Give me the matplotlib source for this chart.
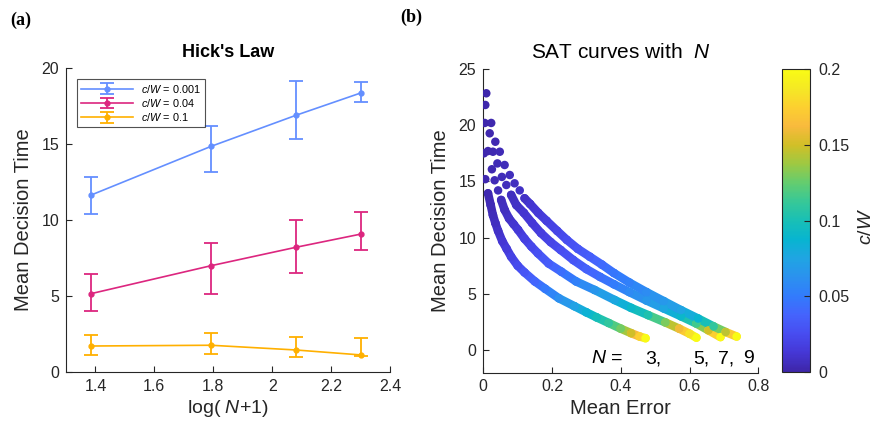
import numpy as np
import matplotlib
matplotlib.use('Agg')
import matplotlib.pyplot as plt
from matplotlib.colors import LinearSegmentedColormap, Normalize
from matplotlib.collections import LineCollection
import matplotlib.cm as cm

plt.rcParams['font.family'] = ['Liberation Sans', 'DejaVu Sans']
plt.rcParams['mathtext.fontset'] = 'custom'
plt.rcParams['mathtext.it'] = 'Liberation Sans:italic'
plt.rcParams['mathtext.rm'] = 'Liberation Sans'

# ---------------- Panel (a) data: Hick's law ----------------
N_items = [3, 5, 7, 9]
hick_labels = ['0.001', '0.04', '0.1']
hick_mean_0001 = [11.65, 14.84, 16.88, 18.37]
hick_low_0001 = [10.40, 13.19, 15.34, 17.74]
hick_high_0001 = [12.86, 16.20, 19.12, 19.05]
hick_mean_004 = [5.16, 6.99, 8.20, 9.08]
hick_low_004 = [4.02, 5.16, 6.53, 8.02]
hick_high_004 = [6.48, 8.50, 10.00, 10.50]
hick_mean_01 = [1.71, 1.76, 1.45, 1.12]
hick_low_01 = [1.14, 1.21, 0.99, 1.03]
hick_high_01 = [2.42, 2.57, 2.31, 2.26]

# ---------------- Panel (b) data: SAT curves ----------------
sat_err_N3 = [0.002, 0.0058, 0.0137, 0.0215, 0.028, 0.035, 0.043, 0.055, 0.068, 0.081,
              0.100, 0.120, 0.150, 0.180, 0.220, 0.265, 0.300, 0.330, 0.365, 0.400,
              0.430, 0.455, 0.472]
sat_dt_N3 = [17.5, 15.2, 13.94, 12.9, 12.0, 11.3, 10.6, 9.7, 9.0, 8.3,
             7.5, 6.9, 6.1, 5.45, 4.6, 3.9, 3.35, 2.9, 2.4, 1.9,
             1.5, 1.2, 1.05]
sat_cw_N3 = [0.001, 0.002, 0.003, 0.004, 0.005, 0.007, 0.009, 0.012, 0.015, 0.019,
             0.024, 0.030, 0.039, 0.049, 0.061, 0.073, 0.085, 0.097, 0.110, 0.128,
             0.150, 0.175, 0.200]

sat_err_N5 = [0.004, 0.0137, 0.025, 0.033, 0.043, 0.052, 0.062, 0.075, 0.088, 0.101,
              0.120, 0.140, 0.159, 0.190, 0.227, 0.270, 0.324, 0.382, 0.430, 0.480,
              0.530, 0.570, 0.600, 0.620]
sat_dt_N5 = [20.2, 17.7, 16.08, 15.1, 14.2, 13.35, 12.46, 11.7, 11.2, 10.7,
             9.9, 9.2, 8.6, 7.7, 6.97, 6.1, 5.34, 4.45, 3.75, 3.1,
             2.45, 1.9, 1.45, 1.1]
sat_cw_N5 = [0.001, 0.002, 0.003, 0.004, 0.005, 0.006, 0.007, 0.009, 0.011, 0.014,
             0.018, 0.022, 0.027, 0.034, 0.043, 0.053, 0.065, 0.077, 0.090, 0.103,
             0.130, 0.160, 0.183, 0.200]

sat_err_N7 = [0.0058, 0.0186, 0.028, 0.041, 0.054, 0.067, 0.081, 0.096, 0.118, 0.142,
              0.168, 0.196, 0.225, 0.262, 0.300, 0.340, 0.380, 0.425, 0.475, 0.525,
              0.575, 0.620, 0.655, 0.690]
sat_dt_N7 = [21.8, 19.28, 17.64, 16.6, 15.4, 14.68, 13.8, 12.9, 12.2, 11.3,
             10.4, 9.6, 8.9, 8.0, 7.2, 6.5, 5.85, 5.15, 4.4, 3.7,
             3.0, 2.35, 1.75, 1.15]
sat_cw_N7 = [0.001, 0.002, 0.003, 0.004, 0.005, 0.006, 0.007, 0.008, 0.011, 0.014,
             0.017, 0.021, 0.025, 0.030, 0.036, 0.043, 0.050, 0.058, 0.066, 0.076,
             0.090, 0.115, 0.150, 0.200]

sat_err_N9 = [0.0087, 0.023, 0.035, 0.048, 0.062, 0.077, 0.091, 0.106, 0.120, 0.136,
              0.160, 0.184, 0.215, 0.243, 0.275, 0.310, 0.345, 0.380, 0.425, 0.475,
              0.525, 0.575, 0.625, 0.670, 0.705, 0.737]
sat_dt_N9 = [22.84, 20.2, 18.53, 17.64, 16.46, 15.57, 14.83, 14.2, 13.5, 13.0,
             12.2, 11.5, 10.6, 9.8, 9.0, 8.3, 7.6, 6.85, 6.0, 5.15,
             4.35, 3.55, 2.8, 2.1, 1.6, 1.2]
sat_cw_N9 = [0.001, 0.002, 0.003, 0.004, 0.005, 0.006, 0.007, 0.008, 0.009, 0.011,
             0.014, 0.017, 0.021, 0.025, 0.030, 0.035, 0.041, 0.047, 0.053, 0.060,
             0.067, 0.075, 0.087, 0.110, 0.145, 0.200]

cbar_ticks = [0, 0.05, 0.1, 0.15, 0.2]
cbar_ticklabels = ['0', '0.05', '0.1', '0.15', '0.2']

# ---------------- styling ----------------
parula_pts = [
    (0.2422, 0.1504, 0.6603), (0.2706, 0.2147, 0.8364), (0.2813, 0.3006, 0.9414),
    (0.2699, 0.3892, 0.9906), (0.1963, 0.4847, 0.9892), (0.1687, 0.5703, 0.9359),
    (0.1248, 0.6459, 0.8883), (0.0297, 0.7082, 0.8163), (0.0964, 0.7500, 0.7120),
    (0.2161, 0.7843, 0.5923), (0.3909, 0.8029, 0.4354), (0.6174, 0.7876, 0.2612),
    (0.8203, 0.7498, 0.1535), (0.9728, 0.7298, 0.2394), (0.9892, 0.8136, 0.1885),
    (0.9597, 0.9135, 0.1423), (0.9769, 0.9839, 0.0805)]
parula = LinearSegmentedColormap.from_list('parula', parula_pts, N=256)
norm = Normalize(vmin=0, vmax=0.2)

axcol = '#262626'
c_blue, c_pink, c_orange = '#648FFF', '#DC267F', '#FFB000'

fig = plt.figure(figsize=(8.75, 4.32), dpi=100)
W, H = 875, 432
ax1 = fig.add_axes([66 / W, 1 - 372 / H, 324 / W, 304 / H])
ax2 = fig.add_axes([483.3 / W, 1 - 372.5 / H, 275 / W, 303.5 / H])
cax = fig.add_axes([782 / W, 1 - 372 / H, 28 / W, 303 / H])


def style_ax(ax):
    for s in ['top', 'right']:
        ax.spines[s].set_visible(False)
    for s in ['left', 'bottom']:
        ax.spines[s].set_color(axcol)
        ax.spines[s].set_linewidth(0.8)
    ax.tick_params(direction='in', length=4, width=0.8, colors=axcol,
                   labelsize=11.5, pad=5)


# ---------------- Panel (a) ----------------
x = np.log(np.array(N_items) + 1)
series = [
    (hick_mean_0001, hick_low_0001, hick_high_0001, c_blue, hick_labels[0]),
    (hick_mean_004, hick_low_004, hick_high_004, c_pink, hick_labels[1]),
    (hick_mean_01, hick_low_01, hick_high_01, c_orange, hick_labels[2]),
]
for m, lo, hi, col, lab in series:
    m = np.array(m); lo = np.array(lo); hi = np.array(hi)
    ax1.errorbar(x, m, yerr=[m - lo, hi - m], color=col, marker='o', ms=3.5,
                 lw=1.2, elinewidth=1.3, capsize=5, capthick=1.3,
                 label='$c/W$ = ' + lab)
ax1.set_xlim(1.3, 2.4)
ax1.set_ylim(0, 20)
ax1.set_xticks([1.4, 1.6, 1.8, 2.0, 2.2, 2.4])
ax1.set_xticklabels(['1.4', '1.6', '1.8', '2', '2.2', '2.4'])
ax1.set_yticks([0, 5, 10, 15, 20])
style_ax(ax1)
ax1.set_xlabel('log( $N$+1)', fontsize=14, color=axcol, labelpad=3)
ax1.set_ylabel('Mean Decision Time', fontsize=14.5, color=axcol, labelpad=6)
ax1.set_title("Hick's Law", fontweight='bold', fontsize=13, pad=8)
leg = ax1.legend(loc='upper left', fontsize=7.8, frameon=True, fancybox=False,
                 handlelength=4.8, borderaxespad=1.0, labelspacing=0.2,
                 borderpad=0.35, handletextpad=0.8)
leg.get_frame().set_edgecolor(axcol)
leg.get_frame().set_linewidth(0.8)

# ---------------- Panel (b) ----------------
curves = [(sat_err_N3, sat_dt_N3, sat_cw_N3), (sat_err_N5, sat_dt_N5, sat_cw_N5),
          (sat_err_N7, sat_dt_N7, sat_cw_N7), (sat_err_N9, sat_dt_N9, sat_cw_N9)]
band_px = 8.5
band_pt = band_px * 72 / 100
for e, d, c in curves:
    e = np.array(e); d = np.array(d); c = np.array(c)
    pts = np.column_stack([e, d])
    segs, cols = [], []
    for i in range(len(e) - 1):
        if max(d[i], d[i + 1]) < 14.0:
            segs.append([pts[i], pts[i + 1]])
            cols.append(0.5 * (c[i] + c[i + 1]))
    lc = LineCollection(segs, cmap=parula, norm=norm, linewidths=band_pt,
                        capstyle='round', joinstyle='round', zorder=2)
    lc.set_array(np.array(cols))
    ax2.add_collection(lc)
    ax2.scatter(e, d, c=c, cmap=parula, norm=norm, s=band_pt ** 2,
                edgecolors='none', zorder=3)

ax2.set_xlim(0, 0.8)
ax2.set_ylim(-2, 25)
ax2.set_xticks([0, 0.2, 0.4, 0.6, 0.8])
ax2.set_xticklabels(['0', '0.2', '0.4', '0.6', '0.8'])
ax2.set_yticks([0, 5, 10, 15, 20, 25])
style_ax(ax2)
ax2.set_xlabel('Mean Error', fontsize=14.5, color=axcol, labelpad=3)
ax2.set_ylabel('Mean Decision Time', fontsize=14.5, color=axcol, labelpad=6)
ax2.set_title('SAT curves with  $N$', fontsize=15, pad=8)


def bx(px):
    return (px - 483.3) / 275.0


yb = (372.5 - 363) / 303.5
ax2.text(bx(591), yb, '$N$ =', transform=ax2.transAxes, fontsize=14,
         va='baseline', ha='left', color='black')
for px, s in [(645, '3,'), (693, '5,'), (718, '7,'), (743, '9')]:
    ax2.text(bx(px), yb, s, transform=ax2.transAxes, fontsize=14,
             va='baseline', ha='left', color='black')

# ---------------- Colorbar ----------------
sm = cm.ScalarMappable(cmap=parula, norm=norm)
cb = fig.colorbar(sm, cax=cax, ticks=cbar_ticks)
cb.ax.set_yticklabels(cbar_ticklabels)
cax.tick_params(direction='in', length=4, width=0.8, colors=axcol,
                labelsize=11.5, pad=6)
cb.outline.set_edgecolor(axcol)
cb.outline.set_linewidth(0.8)
fig.text(858 / W, 1 - 226 / H, '$c/W$', rotation=90, ha='left', va='center',
         fontsize=14, color=axcol)

# Panel labels
fig.text(10 / W, 1 - 20 / H, '(a)', fontfamily='Liberation Serif',
         fontweight='bold', fontsize=13, va='center', ha='left')
fig.text(400 / W, 1 - 17 / H, '(b)', fontfamily='Liberation Serif',
         fontweight='bold', fontsize=13, va='center', ha='left')

fig.savefig('out.png', dpi=100)
